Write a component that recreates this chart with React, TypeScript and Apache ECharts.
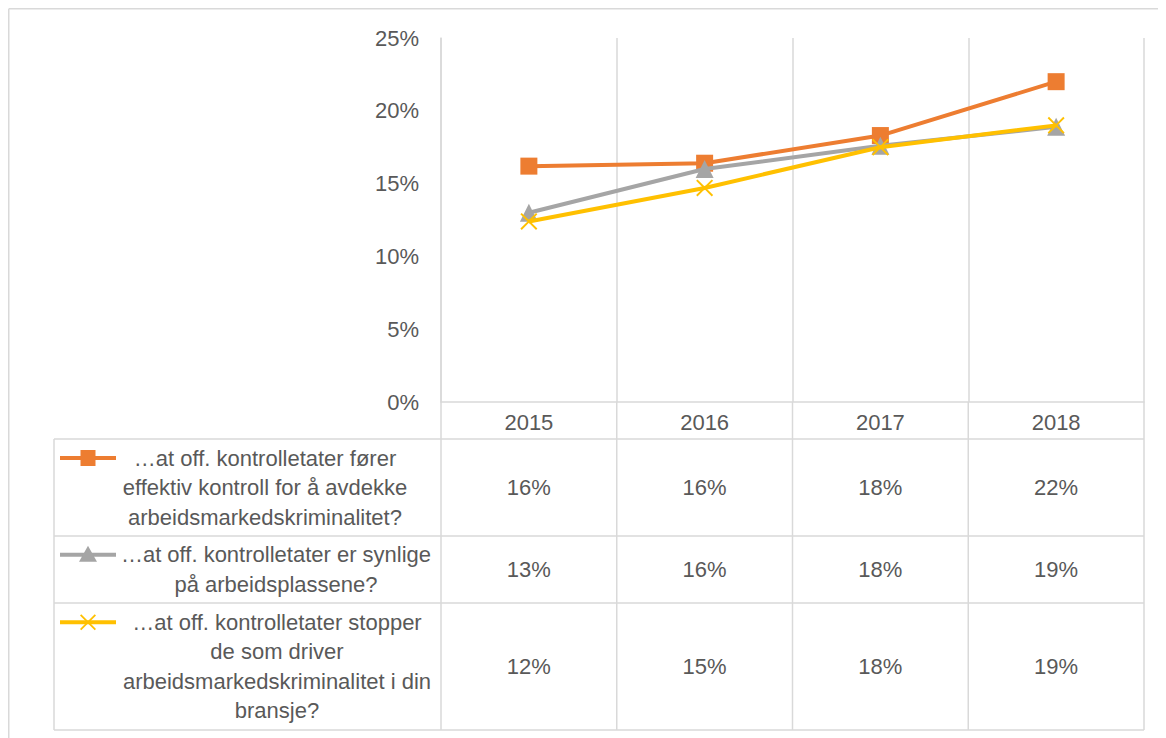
import React, { useEffect, useRef } from "react";
import * as echarts from "echarts";

const years = ["2015", "2016", "2017", "2018"];
const legendLines = [
  ["…at off. kontrolletater fører", "effektiv kontroll for å avdekke", "arbeidsmarkedskriminalitet?"],
  ["…at off. kontrolletater er synlige", "på arbeidsplassene?"],
  ["…at off. kontrolletater stopper", "de som driver", "arbeidsmarkedskriminalitet i din", "bransje?"],
];
const effektivKontroll = [0.162, 0.164, 0.183, 0.22];
const synlige = [0.13, 0.16, 0.176, 0.189];
const stopper = [0.124, 0.147, 0.175, 0.19];
const seriesValues = [effektivKontroll, synlige, stopper];
const colors = ["#ED7D31", "#A5A5A5", "#FFC000"];

const FONT = '"Liberation Sans", Arial, sans-serif';
const TEXT = "#595959";
const GRID = "#D9D9D9";
const X_PATH = "path://M0,8L8,0L50,42L92,0L100,8L58,50L100,92L92,100L50,58L8,100L0,92L42,50Z";

export default function App() {
  const ref = useRef<HTMLDivElement>(null);
  useEffect(() => {
    if (!ref.current) return;
    const chart = echarts.init(ref.current, null, { renderer: "svg" });
    const symbols = ["rect", "triangle", X_PATH];
    const sizes = [17, 18, 17];
    chart.setOption({
      animation: false,
      backgroundColor: "#fff",
      grid: { left: 433, top: 30, width: 703, height: 364, containLabel: false },
      xAxis: {
        type: "category",
        data: years,
        boundaryGap: true,
        axisLine: { show: true, lineStyle: { color: GRID, width: 1.5 } },
        axisTick: { show: false },
        splitLine: { show: true, lineStyle: { color: GRID, width: 1.5 } },
        axisLabel: { color: TEXT, fontSize: 22, fontFamily: FONT, margin: 9 },
      },
      yAxis: {
        type: "value",
        min: 0,
        max: 0.25,
        interval: 0.05,
        axisLine: { show: true, lineStyle: { color: GRID, width: 1.5 } },
        axisTick: { show: false },
        splitLine: { show: false },
        axisLabel: {
          color: TEXT,
          fontSize: 22,
          fontFamily: FONT,
          margin: 22,
          formatter: (v: number) => Math.round(v * 100) + "%",
        },
      },
      series: seriesValues.map((vals, i) => ({
        type: "line",
        name: legendLines[i].join(" "),
        data: vals,
        color: colors[i],
        lineStyle: { width: 4, color: colors[i] },
        itemStyle: { color: colors[i] },
        symbol: symbols[i],
        symbolSize: sizes[i],
        showSymbol: true,
        z: 2 + i,
      })),
    });

    const centers = years.map((y) => chart.convertToPixel({ xAxisIndex: 0 }, y) as number);
    const half = (centers[1] - centers[0]) / 2;
    const bounds = [centers[0] - half, ...centers.map((c) => c + half)];
    const axisY = chart.convertToPixel({ yAxisIndex: 0 }, 0) as number;
    const tableLeft = 46;
    const rowBounds = [431, 528, 595, 722];
    const textCenters = [257, 268, 269];
    const lineH = 29.5;
    const els: any[] = [];
    const line = (x1: number, y1: number, x2: number, y2: number) =>
      els.push({
        type: "line",
        shape: { x1, y1, x2, y2 },
        style: { stroke: GRID, lineWidth: 1.5 },
        silent: true,
      });
    line(0.75, 0.75, 1158, 0.75);
    line(0.75, 0.75, 0.75, 730);
    rowBounds.forEach((y) => line(tableLeft, y, bounds[4], y));
    line(tableLeft, rowBounds[0], tableLeft, rowBounds[3]);
    bounds.forEach((x) => line(x, axisY, x, rowBounds[3]));

    legendLines.forEach((lines, i) => {
      const top = rowBounds[i];
      const bot = rowBounds[i + 1];
      const mid = (top + bot) / 2;
      els.push({
        type: "text",
        style: {
          text: lines.join("\n"),
          x: textCenters[i],
          y: mid,
          align: "center",
          verticalAlign: "middle",
          lineHeight: lineH,
          fontSize: 22,
          fontFamily: FONT,
          fill: TEXT,
        },
        silent: true,
      });
      const iy = mid - ((lines.length - 1) * lineH) / 2;
      const ix = 80;
      els.push({
        type: "line",
        shape: { x1: 52, y1: iy, x2: 108, y2: iy },
        style: { stroke: colors[i], lineWidth: 4 },
        silent: true,
      });
      if (i === 0) {
        els.push({
          type: "rect",
          shape: { x: ix - 7.5, y: iy - 8, width: 15, height: 16 },
          style: { fill: colors[i] },
          silent: true,
        });
      } else if (i === 1) {
        els.push({
          type: "polygon",
          shape: { points: [[ix, iy - 9], [ix + 9, iy + 7], [ix - 9, iy + 7]] },
          style: { fill: colors[i] },
          silent: true,
        });
      } else {
        const s = 16 / 100;
        const pts = [
          [0, 8], [8, 0], [50, 42], [92, 0], [100, 8], [58, 50],
          [100, 92], [92, 100], [50, 58], [8, 100], [0, 92], [42, 50],
        ].map(([px, py]) => [ix - 8 + px * s, iy - 8 + py * s]);
        els.push({ type: "polygon", shape: { points: pts }, style: { fill: colors[i] }, silent: true });
      }
      seriesValues[i].forEach((v, j) => {
        els.push({
          type: "text",
          style: {
            text: Math.round(v * 100) + "%",
            x: centers[j],
            y: mid,
            align: "center",
            verticalAlign: "middle",
            fontSize: 22,
            fontFamily: FONT,
            fill: TEXT,
          },
          silent: true,
        });
      });
    });

    chart.setOption({ graphic: { elements: els } });
    return () => chart.dispose();
  }, []);
  return <div ref={ref} style={{ width: 1158, height: 730 }} />;
}
